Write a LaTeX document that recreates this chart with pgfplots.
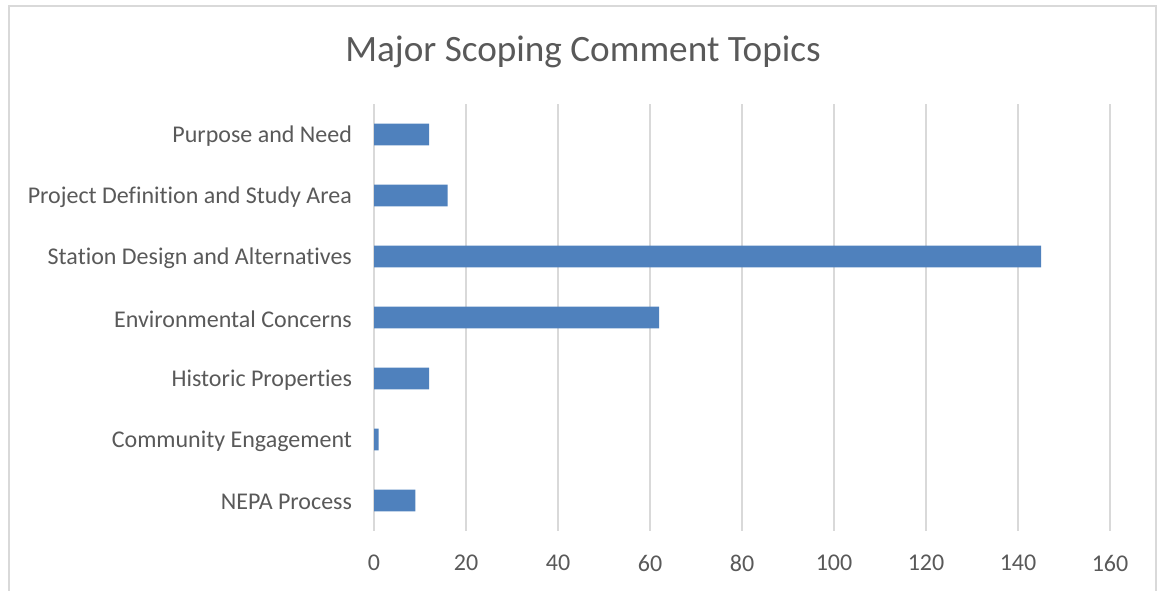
\documentclass[border=0pt]{standalone}
\usepackage{fontspec}
\setmainfont{Carlito}[Ligatures={NoCommon}]
\usepackage{pgfplots}
\pgfplotsset{compat=1.18}
\definecolor{barblue}{HTML}{4F81BD}
\definecolor{txtgray}{HTML}{595959}
\definecolor{gridgray}{HTML}{D9D9D9}
\begin{document}
\begin{tikzpicture}
\useasboundingbox (0,0) rectangle (578.5pt,-295pt);
\draw[color=gridgray, line width=1pt] (4.5pt,-300pt) -- (4.5pt,-2.75pt) -- (578pt,-2.75pt) -- (578pt,-300pt);
\node[anchor=base, text=txtgray, font=\fontsize{18.6}{22}\selectfont, inner sep=0pt] at (291.5pt,-30.85pt) {Major Scoping Comment Topics};
\begin{axis}[
  at={(187pt,-52pt)}, anchor=north west,
  scale only axis, width=368pt, height=213.5pt,
  xbar, bar width=10.85pt,
  xmin=0, xmax=160, ymin=-0.5, ymax=6.5,
  xtick={0,20,...,160},
  ytick={0,1,2,3,4,5,6},
  yticklabels={NEPA Process, Community Engagement, Historic Properties, Environmental Concerns, Station Design and Alternatives, Project Definition and Study Area, Purpose and Need},
  axis line style={draw=none},
  major tick length=0pt,
  xmajorgrids, ymajorgrids=false,
  grid style={color=gridgray, line width=0.75pt},
  /pgf/number format/assume math mode=true,
  tick label style={font=\fontsize{12}{14}\selectfont, text=txtgray},
  yticklabel style={xshift=-7.5pt, yshift=-0.8pt},
  xticklabel style={yshift=-8.5pt},
  clip=false,
]
\addplot[fill=barblue, draw=none] coordinates {
  (9,0) (1,1) (12,2) (62,3) (145,4) (16,5) (12,6)
};
\end{axis}
\end{tikzpicture}
\end{document}
